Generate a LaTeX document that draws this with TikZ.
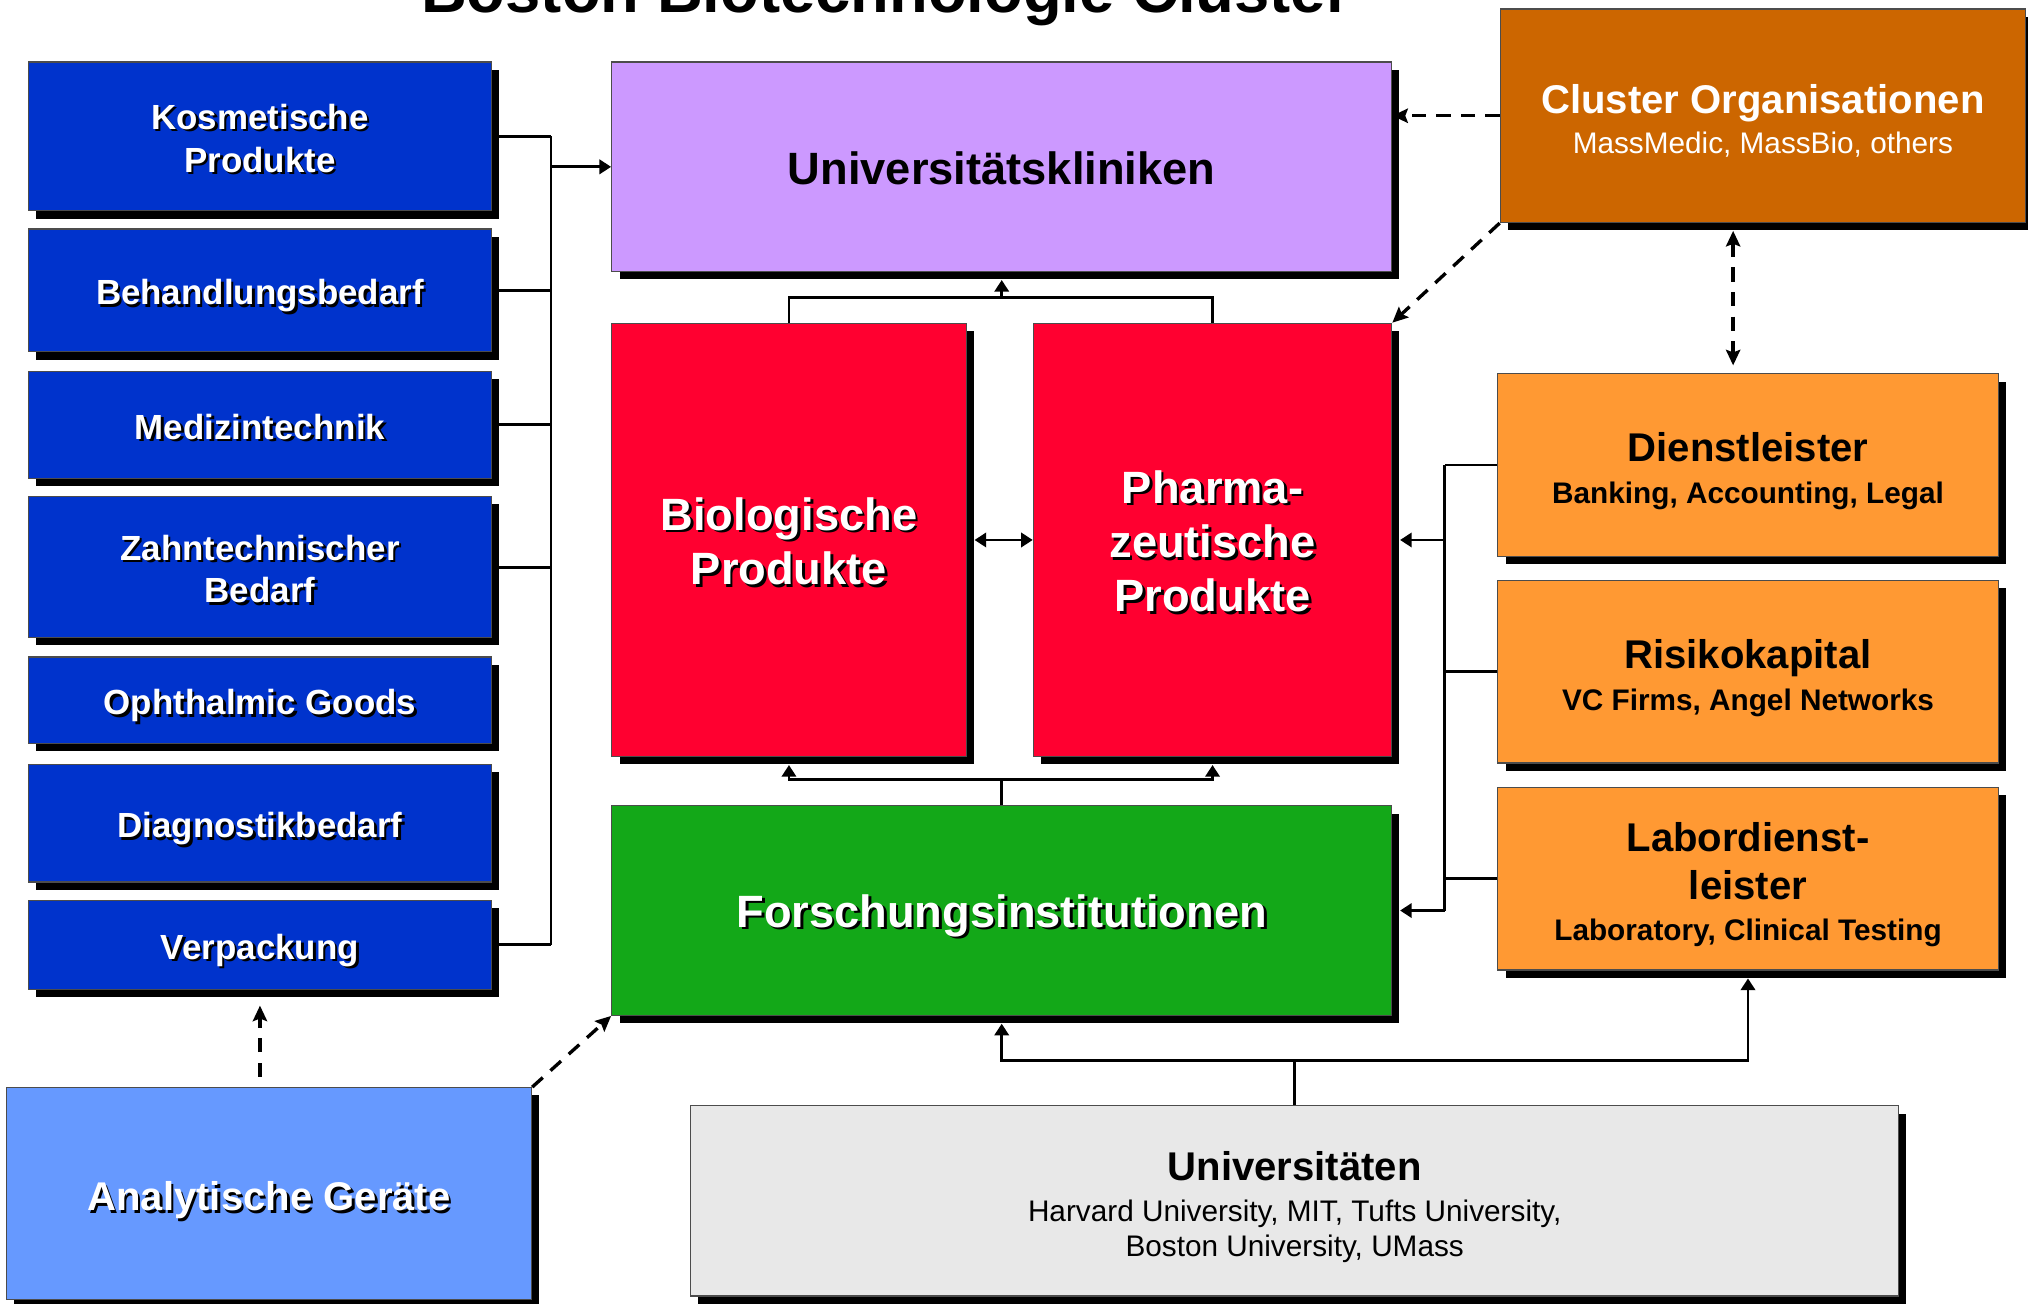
\documentclass[tikz,border=0pt]{standalone}
\usepackage{fontspec}
\setmainfont{Liberation Sans}
\usetikzlibrary{shadows,arrows.meta,calc}

\definecolor{boxblue}{HTML}{0033CC}
\definecolor{lightblue}{HTML}{6699FF}
\definecolor{lilac}{HTML}{CC99FF}
\definecolor{darkorange}{HTML}{CC6600}
\definecolor{lightorange}{HTML}{FF9933}
\definecolor{boxred}{HTML}{FF0030}
\definecolor{boxgreen}{RGB}{19,168,24}
\definecolor{boxgray}{HTML}{E8E8E8}

\newcommand\shtxt[1]{\leavevmode\rlap{\kern2pt\raisebox{-2pt}{\color{black}#1}}#1}
\newcommand\hdfont{\fontsize{31}{37}\selectfont\bfseries}
%% struts that fix where the text sits in its box
\newcommand\tstrut[1]{\rule{0pt}{#1}}
\newcommand\bstrut{\rule[-8pt]{0pt}{0pt}}

\tikzset{
    stip/.tip={Triangle[length=9pt,width=11pt]},
    dtip/.tip={Stealth[length=12pt,width=11pt,inset=2pt]},
    box/.style={draw=black!70, line width=1pt, inner sep=0pt, align=center,
        drop shadow={shadow xshift=6pt, shadow yshift=-6pt, fill=black, opacity=1}},
    bluebox/.style={box, fill=boxblue, text=white, minimum width=358pt,
        font=\fontsize{27}{33}\selectfont\bfseries},
    bigbox/.style={box, font=\fontsize{35}{42}\selectfont\bfseries},
    sidebox/.style={box, fill=lightorange, minimum width=387pt, minimum height=141pt,
        font=\fontsize{23}{27}\selectfont\bfseries},
    conn/.style={line width=2.2pt},
    arr/.style={conn, -stip},
    dashline/.style={line width=2.6pt, dash pattern=on 11pt off 8pt, -dtip},
}

\begin{document}
\begin{tikzpicture}[x=1pt,y=-1pt]
    \useasboundingbox (0,0) rectangle (1568,1008);
    %% title, cut at the top edge
    \node[font=\fontsize{49}{59}\selectfont\bfseries, anchor=base] (title) at (685,10)
        {Boston Biotechnologie Cluster};

    %% product boxes on the left
    \foreach \name/\yc/\h/\txt in {
        kosm/105.5/115/{\shtxt{Kosmetische}\\\shtxt{Produkte}},
        behand/224.5/95/{\shtxt{Behandlungsbedarf}},
        medtech/328.5/83/{\shtxt{Medizintechnik}},
        zahn/438.5/109/{\shtxt{Zahntechnischer}\\\shtxt{Bedarf}},
        ophth/541.5/67/{\shtxt{Ophthalmic Goods}},
        diag/636.5/91/{\shtxt{Diagnostikbedarf}},
        verp/730.5/69/{\shtxt{Verpackung}}}
        \node[bluebox, minimum height=\h] (\name) at (201,\yc) {\tstrut{30pt}\txt\bstrut};

    \node[box, fill=lightblue, text=white, minimum width=406pt, minimum height=164pt,
        font=\fontsize{31}{37}\selectfont\bfseries] (analyt) at (208,923)
        {\tstrut{35pt}\shtxt{Analytische Geräte}\bstrut};

    %% centre column
    \node[bigbox, fill=lilac, minimum width=603pt, minimum height=162pt] (univkl) at (774.5,129)
        {\tstrut{35pt}Universitätskliniken\bstrut};
    \node[bigbox, fill=boxred, text=white, minimum width=274pt, minimum height=335pt] (bio) at (610,417.5)
        {\tstrut{35pt}\shtxt{Biologische}\\\shtxt{Produkte}\bstrut};
    \node[bigbox, fill=boxred, text=white, minimum width=277pt, minimum height=335pt] (pharma) at (937.5,417.5)
        {\tstrut{35pt}\shtxt{Pharma-}\\\shtxt{zeutische}\\\shtxt{Produkte}\bstrut};
    \node[bigbox, fill=boxgreen, text=white, minimum width=603pt, minimum height=162pt] (forsch) at (774.5,704)
        {\tstrut{35pt}\shtxt{Forschungsinstitutionen}\bstrut};

    %% right column
    \node[box, fill=darkorange, text=white, minimum width=406pt, minimum height=165pt,
        font=\fontsize{23}{27}\selectfont] (cluster) at (1363,89.5)
        {\tstrut{35pt}{\hdfont Cluster Organisationen}\\[4pt]MassMedic, MassBio, others\bstrut};
    \node[sidebox] (dienst) at (1351.5,359.5)
        {\tstrut{35pt}{\hdfont Dienstleister}\\[5pt]Banking, Accounting, Legal\bstrut};
    \node[sidebox] (risiko) at (1351.5,519.5)
        {\tstrut{35pt}{\hdfont Risikokapital}\\[5pt]VC Firms, Angel Networks\bstrut};
    \node[sidebox] (labor) at (1351.5,679.5)
        {\tstrut{35pt}{\hdfont Labordienst-}\\[10pt]{\hdfont leister}\\[5pt]Laboratory, Clinical Testing\bstrut};

    \node[box, fill=boxgray, minimum width=934pt, minimum height=147pt,
        font=\fontsize{23}{27}\selectfont] (univ) at (1001,928.5)
        {\tstrut{35pt}{\hdfont Universitäten}\\[5pt]Harvard University, MIT, Tufts University,\\Boston University, UMass\bstrut};

    %% left bus
    \coordinate (lbus) at (426,0);
    \draw[conn] (kosm.east -| lbus) -- (verp.east -| lbus);
    \foreach \name in {kosm,behand,medtech,zahn,verp}
        \draw[conn] (\name.east) -- (\name.east -| lbus);
    \draw[arr] (univkl.west -| lbus) -- (univkl.west);

    %% products up to the clinics
    \coordinate (bpTop) at (774.5,230);
    \draw[conn] (bio.north) |- (bpTop) -| (pharma.north);
    \draw[arr, shorten >=6pt] (bpTop) -- (univkl.south);
    \draw[conn, stip-stip, shorten <=6pt] (bio.east) -- (pharma.west);

    %% research up to the products
    \coordinate (fTop) at (774.5,603);
    \draw[conn] (forsch.north) -- (fTop);
    \draw[arr, shorten >=6pt] (fTop) -| (bio.south);
    \draw[arr, shorten >=6pt] (fTop) -| (pharma.south);

    %% right bus
    \coordinate (rbus) at (1117,0);
    \draw[conn] (dienst.west -| rbus) -- (forsch.east -| rbus);
    \foreach \name in {dienst,risiko,labor}
        \draw[conn] (\name.west) -- (\name.west -| rbus);
    \draw[arr, shorten >=6pt] (pharma.east -| rbus) -- (pharma.east);
    \draw[arr, shorten >=6pt] (forsch.east -| rbus) -- (forsch.east);

    %% universities
    \coordinate (uTop) at (1001,820);
    \draw[conn] (univ.north) -- (uTop);
    \draw[arr, shorten >=6pt] (uTop) -| (forsch.south);
    \draw[arr, shorten >=6pt] (uTop) -| (labor.south);

    %% dashed links
    \draw[dashline] (cluster.west) -- (cluster.west -| univkl.east);
    \draw[dashline] (cluster.south west) -- (pharma.north east);
    \draw[dashline, dtip-dtip, shorten <=6pt, shorten >=6pt] ([xshift=-23pt]cluster.south)
        -- ([xshift=-23pt]cluster.south |- dienst.north);
    \draw[dashline, shorten <=8pt, shorten >=12pt] (analyt.north -| verp.south) -- (verp.south);
    \draw[dashline] (analyt.north east) -- (forsch.south west);
\end{tikzpicture}
\end{document}
